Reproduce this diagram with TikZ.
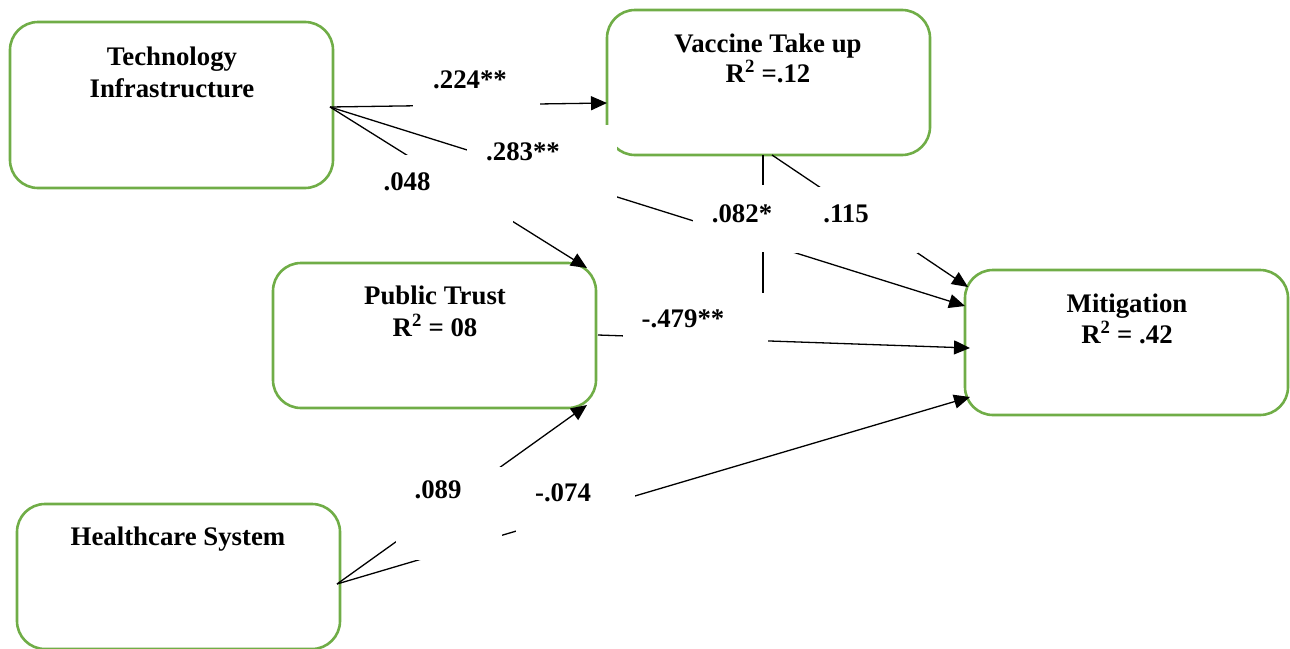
\documentclass[tikz,border=0pt]{standalone}
\usepackage{fontspec}
\setmainfont{Liberation Serif}
\usetikzlibrary{arrows.meta}
\definecolor{boxgreen}{RGB}{112,173,71}
\begin{document}
\begin{tikzpicture}[x=1pt,y=-1pt,
  box/.style={draw=boxgreen,line width=2.6pt,rounded corners=28pt,inner sep=0pt,outer sep=0pt},
  txt/.style={font=\fontsize{26.8}{32}\selectfont\bfseries,anchor=base,inner sep=0pt},
  conn/.style={line width=1.3pt},
  arr/.style={conn,-{Triangle[length=16pt,width=14pt]}},
  maskfill/.style={fill=white}]
\useasboundingbox (0,0) rectangle (1290,648);
\clip (0,0) rectangle (1290,648);
% boxes
\node[box,minimum width=323pt,minimum height=166pt] (tech) at (171.5,105) {};
\node[box,minimum width=323pt,minimum height=145pt] (vac) at (768.5,82.5) {};
\node[box,minimum width=323pt,minimum height=145pt] (pt) at (434.5,335.5) {};
\node[box,minimum width=323pt,minimum height=145pt] (mit) at (1126.5,342.5) {};
\node[box,minimum width=323pt,minimum height=145pt] (hc) at (178.5,576.5) {};
% connector end points
\coordinate (techout) at (330,107);
\coordinate (vacin) at (607,103);
\coordinate (ptin) at (587,268);
\coordinate (ptin2) at (587,405);
\coordinate (ptout) at (598,335);
\coordinate (vacout) at (763,155);
\coordinate (vacout2) at (772,155);
\coordinate (vacend) at (763,330);
\coordinate (mitA) at (968,287);
\coordinate (mitB) at (965,306);
\coordinate (mitC) at (970,348);
\coordinate (mitD) at (970,397);
\coordinate (hcout) at (337,584);
% connectors
\draw[arr] (techout) -- (vacin);
\draw[arr] (techout) -- (ptin);
\draw[arr] (techout) -- (mitB);
\draw[arr] (vacout2) -- (mitA);
\draw[conn] (vacout) -- (vacend);
\draw[arr] (ptout) -- (mitC);
\draw[arr] (hcout) -- (ptin2);
\draw[arr] (hcout) -- (mitD);
% label backgrounds
\fill[maskfill] (413,60) rectangle (540,114);
\fill[maskfill] (467,125) rectangle (617,200);
\fill[maskfill] (370,155) rectangle (513,224);
\fill[maskfill] (693,185) rectangle (790,252);
\fill[maskfill] (790,187) rectangle (918,253);
\fill[maskfill] (623,293) rectangle (768,343);
\fill[maskfill] (396,467) rectangle (502,560);
\fill[maskfill] (516,470) rectangle (635,533);
% box texts
\node[txt] (t1) at (172,65) {Technology};
\node[txt] (t2) at (172,97) {Infrastructure};
\node[txt] (v1) at (768,52) {Vaccine Take up};
\node[txt] (v2) at (768,82) {R\textsuperscript{2} =.12};
\node[txt] (p1) at (435,304) {Public Trust};
\node[txt] (p2) at (435,336) {R\textsuperscript{2} = 08};
\node[txt] (m1) at (1127,312) {Mitigation};
\node[txt] (m2) at (1127,343) {R\textsuperscript{2} = .42};
\node[txt] (h1) at (178,545) {Healthcare System};
% path labels
\node[txt] (l1) at (470,88) {.224**};
\node[txt] (l2) at (523,160) {.283**};
\node[txt] (l3) at (407,190) {.048};
\node[txt] (l4) at (742,222) {.082*};
\node[txt] (l5) at (846,222) {.115};
\node[txt] (l6) at (683,327) {-.479**};
\node[txt] (l7) at (438,498) {.089};
\node[txt] (l8) at (563,501) {-.074};
\end{tikzpicture}
\end{document}
